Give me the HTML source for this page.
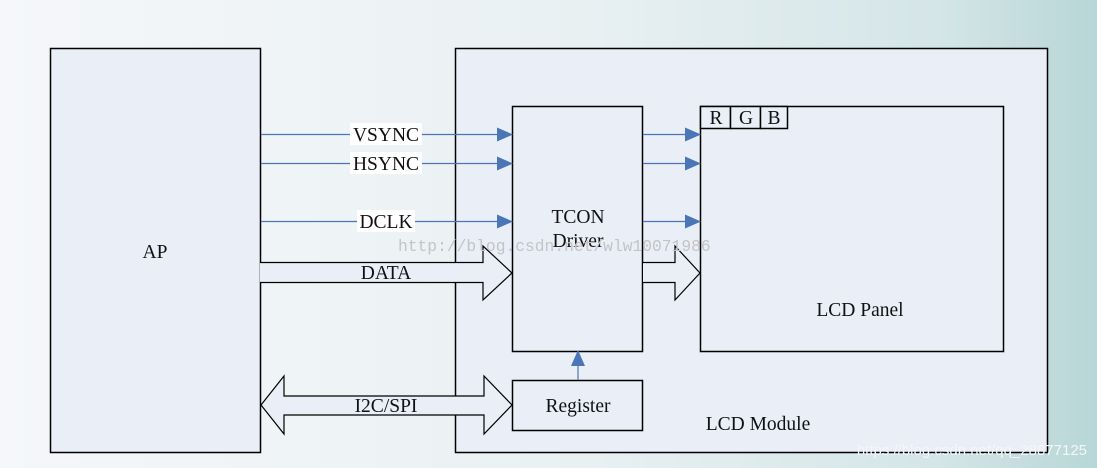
<!DOCTYPE html>
<html><head><meta charset="utf-8"><style>
html,body{margin:0;padding:0;width:1097px;height:468px;overflow:hidden}
svg{display:block}
text{font-family:"Liberation Serif",serif;fill:#111}
</style></head><body>
<svg width="1097" height="468" viewBox="0 0 1097 468" xmlns="http://www.w3.org/2000/svg">
<defs>
<linearGradient id="bg" x1="0" y1="0" x2="1" y2="0">
<stop offset="0" stop-color="#f5f7fa"/>
<stop offset="0.5" stop-color="#eaf1f3"/>
<stop offset="0.85" stop-color="#d5e6e8"/>
<stop offset="1" stop-color="#b8d6d7"/>
</linearGradient>
<marker id="ah" markerWidth="16" markerHeight="14" refX="15" refY="7" orient="auto" markerUnits="userSpaceOnUse">
<path d="M0,0 L16,7 L0,14 z" fill="#4a76b8"/>
</marker>
</defs>
<rect width="1097" height="468" fill="url(#bg)"/>
<g stroke="#000" stroke-width="1.5" fill="#e9eef7">
<rect x="50.5" y="48.5" width="210" height="404"/>
<rect x="455.5" y="48.5" width="592" height="404"/>
<rect x="512.5" y="106.5" width="130" height="245"/>
<rect x="700.5" y="106.5" width="303" height="245"/>
<rect x="512.5" y="380.5" width="130" height="50"/>
<rect x="700.5" y="106.5" width="30" height="22"/>
<rect x="730.5" y="106.5" width="30" height="22"/>
<rect x="760.5" y="106.5" width="27" height="22"/>
</g>
<g stroke="#4a76b8" stroke-width="1.2" marker-end="url(#ah)">
<line x1="261" y1="134.5" x2="512" y2="134.5"/>
<line x1="261" y1="163.5" x2="512" y2="163.5"/>
<line x1="261" y1="221.5" x2="512" y2="221.5"/>
<line x1="643" y1="134.5" x2="700" y2="134.5"/>
<line x1="643" y1="163.5" x2="700" y2="163.5"/>
<line x1="643" y1="221.5" x2="700" y2="221.5"/>
<line x1="578" y1="380" x2="578" y2="351"/>
</g>
<g fill="#fff">
<rect x="350" y="123" width="72" height="22"/>
<rect x="350" y="152" width="72" height="22"/>
<rect x="357" y="210" width="58" height="22"/>
</g>
<g fill="#e9eef7" stroke="#000" stroke-width="1.2">
<path d="M260,262.5 L483,262.5 L483,246 L512,273 L483,300 L483,282.5 L260,282.5"/>
<path d="M643,262.5 L675,262.5 L675,246 L700,273 L675,300 L675,282.5 L643,282.5"/>
<path d="M261,405 L284,376 L284,396 L484,396 L484,376 L512,405 L484,434 L484,415 L284,415 L284,434 z"/>
</g>
<g font-size="19.5" text-anchor="middle">
<text x="386" y="141">VSYNC</text>
<text x="386" y="170">HSYNC</text>
<text x="386" y="228">DCLK</text>
<text x="386" y="279">DATA</text>
<text x="386" y="412">I2C/SPI</text>
<text x="155" y="258">AP</text>
<text x="578" y="223">TCON</text>
<text x="578" y="247">Driver</text>
<text x="578" y="412">Register</text>
<text x="860" y="316">LCD Panel</text>
<text x="758" y="430">LCD Module</text>
<text x="716" y="124">R</text>
<text x="746" y="124">G</text>
<text x="774" y="124">B</text>
</g>
<text x="398" y="251" font-size="16.3" style="fill:#c4c4c4;font-family:'Liberation Mono',monospace">http://blog.csdn.net/wlw10071986</text>
<text x="1087" y="455" text-anchor="end" font-size="15" style="fill:#f4f7f8;font-family:'Liberation Sans',sans-serif">https://blog.csdn.net/qq_28877125</text>
</svg>
</body></html>
